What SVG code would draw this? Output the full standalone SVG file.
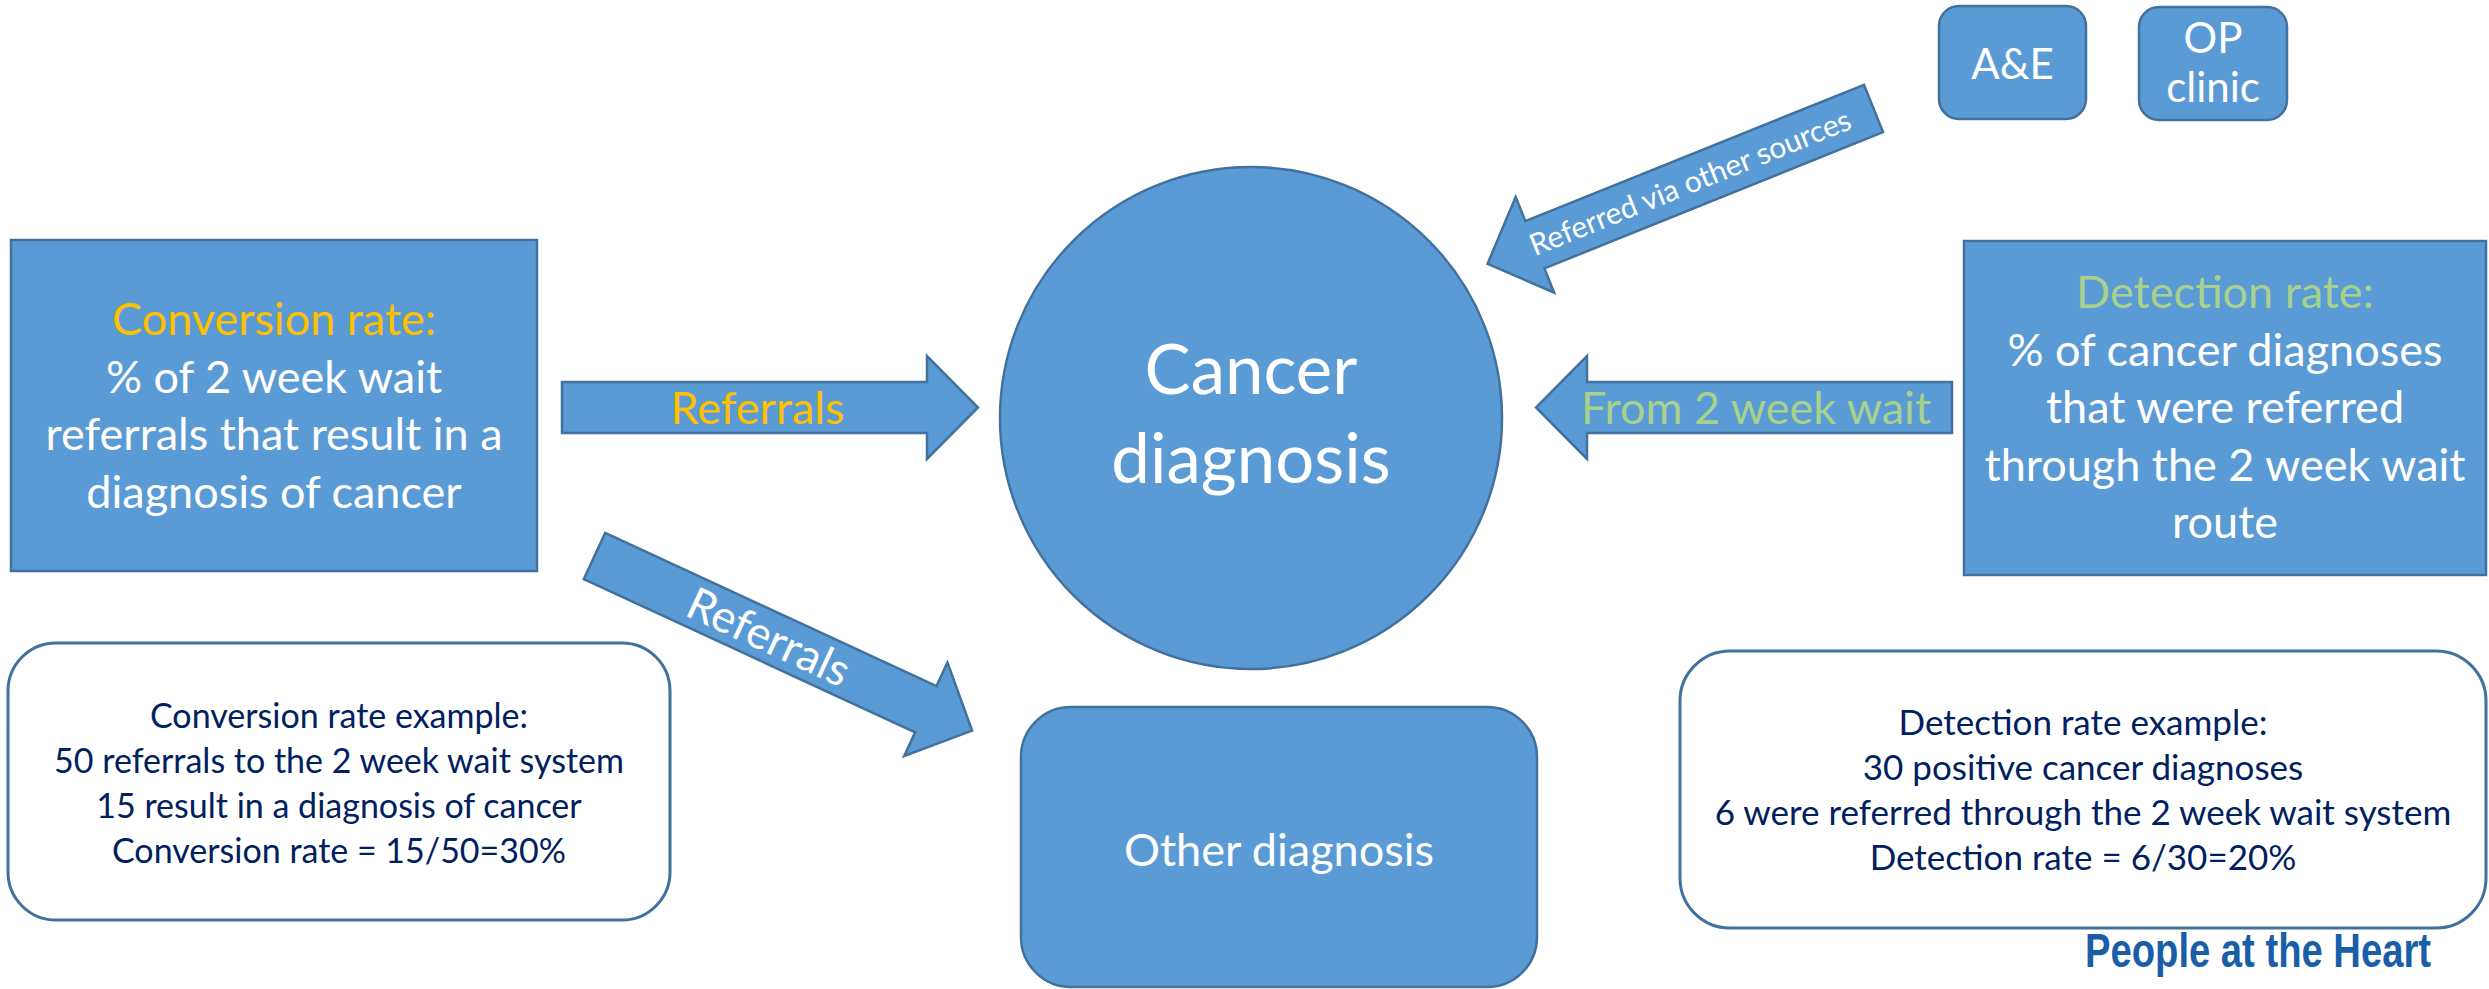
<svg xmlns="http://www.w3.org/2000/svg" xmlns:xlink="http://www.w3.org/1999/xlink" width="2489" height="989" viewBox="0 0 2489 989">
<style>
.shape{fill:#5B9BD5;stroke:#41719C;stroke-width:2.5}
.card{fill:#FFFFFF;stroke:#41719C;stroke-width:3}
text{font-family:Lato,"Open Sans","DejaVu Sans",sans-serif;text-anchor:middle}
.w{fill:#FFFFFF}
.big{font-size:45px}
.ex{font-size:34px;fill:#002060}
.ex2{font-size:35px;fill:#002060}
.orange{fill:#FFC000}
.green{fill:#A9D18E}
</style>
<defs>
<polygon id="blockArrow" points="0,-25.5 365,-25.5 365,-51.5 416,0 365,51.5 365,25.5 0,25.5"/>
</defs>
<rect width="2489" height="989" fill="#FFFFFF"/>

<g id="connectors">
  <g id="arrow-referrals">
    <use xlink:href="#blockArrow" href="#blockArrow" class="shape" transform="translate(562,407.5)"/>
    <text class="big orange" x="757.5" y="424">Referrals</text>
  </g>
  <g id="arrow-from-2ww">
    <use xlink:href="#blockArrow" href="#blockArrow" class="shape" transform="translate(1952,407.5) rotate(180)"/>
    <text class="big green" x="1756" y="424">From 2 week wait</text>
  </g>
  <g id="arrow-other-sources">
    <use xlink:href="#blockArrow" href="#blockArrow" class="shape" transform="translate(1873.5,108.5) rotate(158.08)"/>
    <text class="w" style="font-size:30px" transform="translate(1690,182) rotate(-21.92)" x="0" y="11">Referred via other sources</text>
  </g>
  <g id="arrow-referrals-other">
    <use xlink:href="#blockArrow" href="#blockArrow" class="shape" transform="translate(594.5,556) rotate(24.81)"/>
    <text class="big w" transform="translate(768.8,636.6) rotate(24.81)" x="0" y="16">Referrals</text>
  </g>
</g>

<g id="conversion-rate">
  <rect class="shape" x="11" y="240" width="526" height="331"/>
  <text class="big orange" x="274" y="335">Conversion rate:</text>
  <text class="big w" x="274" y="392.5">% of 2 week wait</text>
  <text class="big w" x="274" y="450">referrals that result in a</text>
  <text class="big w" x="274" y="507.5">diagnosis of cancer</text>
</g>

<g id="cancer-diagnosis">
  <circle class="shape" cx="1251" cy="418" r="251"/>
  <text class="w" style="font-size:69px" x="1251" y="394">Cancer</text>
  <text class="w" style="font-size:69px" x="1251" y="483">diagnosis</text>
</g>

<g id="detection-rate">
  <rect class="shape" x="1964" y="241" width="522" height="334"/>
  <text class="big green" x="2225" y="308">Detection rate:</text>
  <text class="big w" x="2225" y="365.5">% of cancer diagnoses</text>
  <text class="big w" x="2225" y="423">that were referred</text>
  <text class="big w" x="2225" y="480.5">through the 2 week wait</text>
  <text class="big w" x="2225" y="538">route</text>
</g>

<g id="ae">
  <rect class="shape" x="1939" y="6" width="147" height="113" rx="20"/>
  <text class="w" style="font-size:42px" x="2012.5" y="79">A&amp;E</text>
</g>

<g id="op-clinic">
  <rect class="shape" x="2139" y="7" width="148" height="113" rx="20"/>
  <text class="w" style="font-size:42px" x="2213" y="53">OP</text>
  <text class="w" style="font-size:42px" x="2213" y="102">clinic</text>
</g>

<g id="other-diagnosis">
  <rect class="shape" x="1021" y="707" width="516" height="280" rx="50"/>
  <text class="big w" x="1279" y="866">Other diagnosis</text>
</g>

<g id="conversion-example">
  <rect class="card" x="8" y="643" width="662" height="277" rx="48"/>
  <text class="ex" x="339" y="727.5">Conversion rate example:</text>
  <text class="ex" x="339" y="772.5">50 referrals to the 2 week wait system</text>
  <text class="ex" x="339" y="817.5">15 result in a diagnosis of cancer</text>
  <text class="ex" x="339" y="862.5">Conversion rate = 15/50=30%</text>
</g>

<g id="detection-example">
  <rect class="card" x="1680" y="651" width="806" height="277" rx="50"/>
  <text class="ex2" x="2083" y="735">Detection rate example:</text>
  <text class="ex2" x="2083" y="780">30 positive cancer diagnoses</text>
  <text class="ex2" x="2083" y="825">6 were referred through the 2 week wait system</text>
  <text class="ex2" x="2083" y="870">Detection rate = 6/30=20%</text>
</g>

<g id="tagline">
  <text x="2085" y="967" textLength="346" lengthAdjust="spacingAndGlyphs" style="text-anchor:start;font-family:'Liberation Sans',Arial,sans-serif;font-weight:bold;font-size:48px;fill:#1A5EA8">People at the Heart</text>
</g>
</svg>
